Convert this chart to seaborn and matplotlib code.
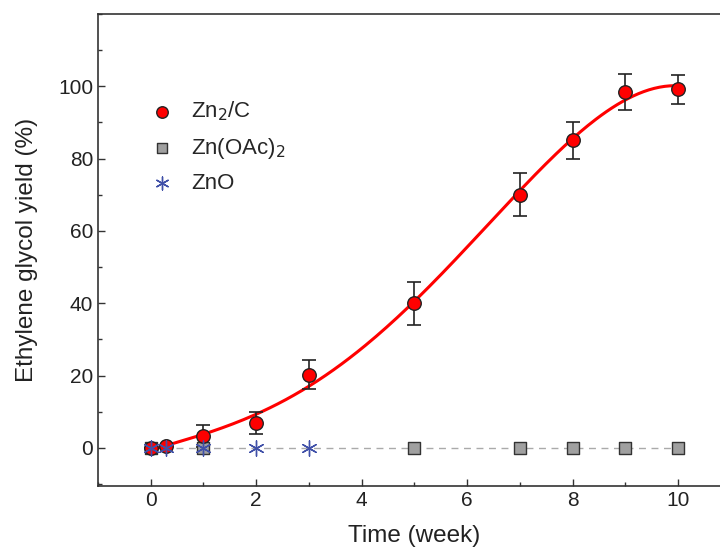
import numpy as np
import pandas as pd
import seaborn as sns
import matplotlib.pyplot as plt
from matplotlib.ticker import MultipleLocator

# Zn2/C yield with error bars
zn2c_time = [0, 0.3, 1, 2, 3, 5, 7, 8, 9, 10]
zn2c_yield = [0, 0.6, 3.3, 7.0, 20.3, 40.0, 70.0, 85.0, 98.3, 99.2]
zn2c_err = [0, 0, 3.0, 3.0, 4.0, 6.0, 6.0, 5.0, 5.0, 4.0]

# Zn(OAc)2 and ZnO (no yield)
znoac_time = [0, 1, 5, 7, 8, 9, 10]
znoac_yield = [0, 0, 0, 0, 0, 0, 0]
zno_time = [0, 0.3, 1, 2, 3]
zno_yield = [0, 0, 0, 0, 0]

sns.set_style("ticks")
plt.rcParams['font.family'] = ['Liberation Sans', 'DejaVu Sans']

fig = plt.figure(figsize=(7.2, 5.51), dpi=100)
ax = fig.add_axes([0.136, 0.118, 0.879, 0.857])

# fitted curve through Zn2/C points
coef = np.polyfit(zn2c_time, zn2c_yield, 4)
fit_x = np.linspace(0, 10, 200)
fit = pd.DataFrame({'t': fit_x, 'y': np.polyval(coef, fit_x)})

df_oac = pd.DataFrame({'t': znoac_time, 'y': znoac_yield})
df_zno = pd.DataFrame({'t': zno_time, 'y': zno_yield})
df_c = pd.DataFrame({'t': zn2c_time, 'y': zn2c_yield})

ax.plot([0, 10], [0, 0], ls=(0, (5, 4)), color='#aaaaaa', lw=1.0, zorder=1)
sns.lineplot(data=fit, x='t', y='y', color='#ff0000', lw=2.2, ax=ax, zorder=2)
ax.errorbar(zn2c_time, zn2c_yield, yerr=zn2c_err, fmt='none', ecolor='#222222',
            elinewidth=1.2, capsize=5, capthick=1.2, zorder=3)

sns.scatterplot(data=df_oac, x='t', y='y', marker='s', s=70, color='#a0a0a0',
                edgecolor='#333333', linewidth=1.0, ax=ax, zorder=4, label='Zn(OAc)$_2$')
sns.scatterplot(data=df_c, x='t', y='y', marker='o', s=95, color='#ff0000',
                edgecolor='#222222', linewidth=1.0, ax=ax, zorder=5, label='Zn$_2$/C')
sns.scatterplot(data=df_zno, x='t', y='y', marker=(6, 2, 0), s=120, color='#4050a8',
                linewidth=1.0, ax=ax, zorder=6, label='ZnO')

handles, labels = ax.get_legend_handles_labels()
order = [labels.index('Zn$_2$/C'), labels.index('Zn(OAc)$_2$'), labels.index('ZnO')]
ax.legend([handles[i] for i in order], [labels[i] for i in order], frameon=False,
          loc='upper left', bbox_to_anchor=(0.035, 0.86), fontsize=16,
          handletextpad=0.3, labelspacing=0.55, markerscale=0.85)

ax.set_xlim(-1, 11)
ax.set_ylim(-10.5, 120)
ax.xaxis.set_major_locator(MultipleLocator(2))
ax.xaxis.set_minor_locator(MultipleLocator(1))
ax.yaxis.set_major_locator(MultipleLocator(20))
ax.yaxis.set_minor_locator(MultipleLocator(10))
ax.set_yticks([0, 20, 40, 60, 80, 100])
ax.tick_params(which='both', direction='in', labelsize=15, colors='#333333',
               labelcolor='#222222', width=1.0)
ax.tick_params(which='major', length=5)
ax.tick_params(which='minor', length=3)
for sp in ax.spines.values():
    sp.set_color('#333333')
    sp.set_linewidth(1.2)

ax.set_xlabel('Time (week)', fontsize=17.5, color='#222222', labelpad=11)
ax.set_ylabel('Ethylene glycol yield (%)', fontsize=17.5, color='#222222', labelpad=14)

fig.savefig('out.png', dpi=100)
